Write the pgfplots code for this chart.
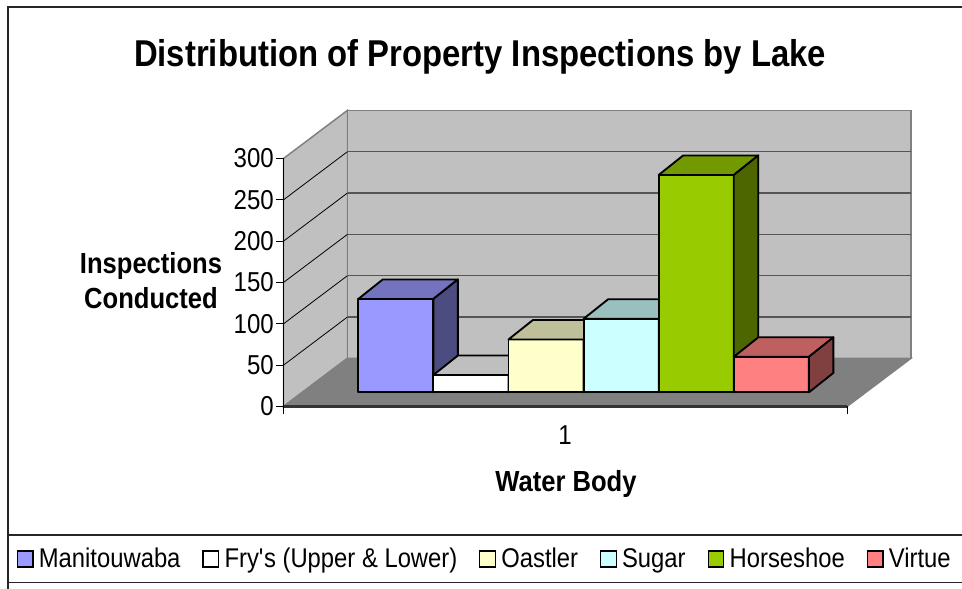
\documentclass[border=0pt]{standalone}
\usepackage{fontspec}
\setmainfont{Liberation Sans}[FakeStretch=0.88]
\usepackage{pgfplots}
\pgfplotsset{compat=1.18}

\definecolor{wallgray}{HTML}{C0C0C0}
\definecolor{floorgray}{HTML}{808080}
\definecolor{edgegray}{HTML}{808080}
\definecolor{gridgray}{HTML}{555555}
\definecolor{mfront}{HTML}{9999FF}\definecolor{mtop}{HTML}{7373BF}\definecolor{mside}{HTML}{4C4C80}
\definecolor{ffront}{HTML}{FFFFFF}\definecolor{ftop}{HTML}{BFBFBF}\definecolor{fside}{HTML}{808080}
\definecolor{ofront}{HTML}{FFFFCC}\definecolor{otop}{HTML}{BFBF99}\definecolor{oside}{HTML}{808066}
\definecolor{sfront}{HTML}{CCFFFF}\definecolor{stop}{HTML}{99BFBF}\definecolor{sside}{HTML}{668080}
\definecolor{hfront}{HTML}{99CC00}\definecolor{htop}{HTML}{739900}\definecolor{hside}{HTML}{4D6600}
\definecolor{vfront}{HTML}{FF8080}\definecolor{vtop}{HTML}{BF6060}\definecolor{vside}{HTML}{804040}

% #1 left edge (px), #2 value, #3 front, #4 top, #5 side colour
\newcommand{\bbox}[5]{%
  \pgfmathsetmacro\xa{#1}%
  \pgfmathsetmacro\xb{#1+75.1}%
  \pgfmathsetmacro\xc{#1+99.6}%
  \pgfmathsetmacro\xd{#1+24.5}%
  \pgfmathsetmacro\yb{17.1+#2}%
  \pgfmathsetmacro\yc{40.7+#2}%
  \addplot[forget plot, fill=#3, draw=black, line width=1.4pt, line join=round]
    coordinates {(\xa,17.1) (\xb,17.1) (\xb,\yb) (\xa,\yb)} -- cycle;
  \addplot[forget plot, fill=#4, draw=black, line width=1.4pt, line join=round]
    coordinates {(\xa,\yb) (\xb,\yb) (\xc,\yc) (\xd,\yc)} -- cycle;
  \addplot[forget plot, fill=#5, draw=black, line width=1.4pt, line join=round]
    coordinates {(\xb,17.1) (\xc,40.7) (\xc,\yc) (\xb,\yb)} -- cycle;
}

\begin{document}
\begin{tikzpicture}
\path[use as bounding box] (0,0) rectangle (721.5pt,441pt);
\fill[white] (0,0) rectangle (721.5pt,441pt);
\begin{axis}[
  at={(212.625pt,136.125pt)}, anchor=south west,
  x=0.75pt, y=0.62pt,
  xmin=283.5, xmax=847, ymin=0, ymax=300,
  clip=false, axis on top,
  axis x line*=bottom, axis y line*=left,
  x axis line style={line width=1.8pt, black!80},
  y axis line style={line width=0.6pt, black},
  tick align=outside,
  major tick length=5.5pt,
  ytick={0,50,...,300},
  xtick={283.5,847}, xticklabels={,},
  extra x ticks={565}, extra x tick labels={1},
  extra x tick style={major tick length=0pt},
  tick style={black, line width=0.6pt},
  xticklabel style={yshift=-10.5pt},
  yticklabel style={xshift=1.8pt},
  ticklabel style={font=\fontsize{20.5}{22}\selectfont},
  /pgf/number format/assume math mode=true,
  legend columns=6,
  legend cell align=left,
  legend image code/.code={\draw[#1, draw=black, line width=0.9pt] (0pt,-6pt) rectangle (11.7pt,6pt);},
  legend style={at={(0.3576,-0.615)}, anchor=center, draw=none, fill=none,
    font=\fontsize{20.3}{23}\selectfont,
    /tikz/every odd column/.append style={column sep=2pt},
    /tikz/every even column/.append style={column sep=14.4pt}},
]
% walls and floor
\addplot[forget plot, fill=wallgray, draw=edgegray, line width=1.1pt]
  coordinates {(283.5,0) (283.5,300) (347.5,358.3) (347.5,58.3)} -- cycle;
\addplot[forget plot, fill=wallgray, draw=edgegray, line width=1.1pt]
  coordinates {(347.5,58.3) (911,58.3) (911,358.3) (347.5,358.3)} -- cycle;
\addplot[forget plot, fill=floorgray, draw=edgegray, line width=1.1pt]
  coordinates {(283.5,0) (847,0) (911,58.3) (347.5,58.3)} -- cycle;
% gridlines on back wall
\addplot[forget plot, draw=gridgray, line width=1.1pt] coordinates {(347.5,108.3) (911,108.3)};
\addplot[forget plot, draw=gridgray, line width=1.1pt] coordinates {(347.5,158.3) (911,158.3)};
\addplot[forget plot, draw=gridgray, line width=1.1pt] coordinates {(347.5,208.3) (911,208.3)};
\addplot[forget plot, draw=gridgray, line width=1.1pt] coordinates {(347.5,258.3) (911,258.3)};
\addplot[forget plot, draw=gridgray, line width=1.1pt] coordinates {(347.5,308.3) (911,308.3)};
% gridlines on side wall
\addplot[forget plot, draw=black, line width=0.6pt] coordinates {(283.5,50) (347.5,108.3)};
\addplot[forget plot, draw=black, line width=0.6pt] coordinates {(283.5,100) (347.5,158.3)};
\addplot[forget plot, draw=black, line width=0.6pt] coordinates {(283.5,150) (347.5,208.3)};
\addplot[forget plot, draw=black, line width=0.6pt] coordinates {(283.5,200) (347.5,258.3)};
\addplot[forget plot, draw=black, line width=0.6pt] coordinates {(283.5,250) (347.5,308.3)};
% bars
\bbox{358.3}{113}{mfront}{mtop}{mside}
\bbox{433.4}{21}{ffront}{ftop}{fside}
\bbox{508.5}{64}{ofront}{otop}{oside}
\bbox{583.6}{89}{sfront}{stop}{sside}
\bbox{658.7}{263}{hfront}{htop}{hside}
\bbox{733.8}{43}{vfront}{vtop}{vside}
% legend
\addlegendimage{fill=mfront}\addlegendentry{Manitouwaba}
\addlegendimage{fill=ffront}\addlegendentry{Fry\textquotesingle s (Upper \& Lower)}
\addlegendimage{fill=ofront}\addlegendentry{Oastler}
\addlegendimage{fill=sfront}\addlegendentry{Sugar}
\addlegendimage{fill=hfront}\addlegendentry{Horseshoe}
\addlegendimage{fill=vfront}\addlegendentry{Virtue}
\end{axis}
% frame
\draw[black!85, line width=1.1pt] (6pt,-3pt) -- (6pt,435.75pt) -- (725pt,435.75pt);
\draw[black!85, line width=1.1pt] (6pt,39.75pt) -- (725pt,39.75pt);
\draw[black!85, line width=1.1pt] (6pt,4pt) -- (725pt,4pt);
% texts
\node[anchor=base, font=\fontsize{28}{32}\selectfont\bfseries] at (360pt,391.1pt) {Distribution of Property Inspections by Lake};
\node[align=center, font=\fontsize{21.8}{26.25}\selectfont\bfseries] at (113.25pt,230.25pt) {Inspections\\Conducted};
\node[anchor=base, font=\fontsize{21.8}{24}\selectfont\bfseries] at (424.5pt,72.45pt) {Water Body};
\end{tikzpicture}
\end{document}
